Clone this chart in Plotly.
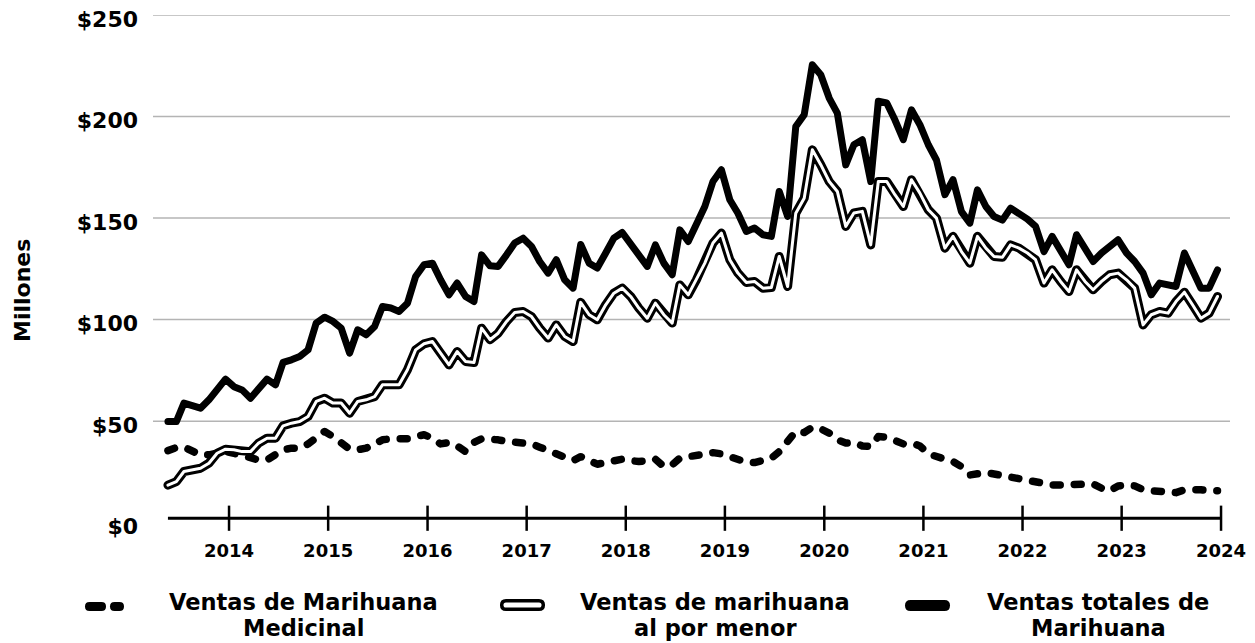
import pandas as pd
import plotly.graph_objects as go

# ---------------- data ----------------
months = pd.date_range("2014-01-01", periods=128, freq="MS")

total_sales = [
    49.8, 49.8, 58.9, 57.2, 56.4, 60.5, 65.8, 70.7, 67.0, 65.4, 61.3, 66.3,
    70.7, 67.9, 78.9, 80.2, 81.8, 85.1, 98.3, 101.2, 99.1, 95.8, 83.5, 95.0,
    92.5, 96.6, 106.5, 105.7, 104.0, 108.1, 121.2, 127.0, 127.8, 119.6, 112.2, 118.0,
    111.4, 108.9, 131.9, 126.5, 126.2, 131.9, 137.7, 140.1, 136.0, 128.6, 122.9, 129.5,
    119.6, 115.5, 137.0, 127.8, 125.4, 132.8, 140.1, 142.9, 137.7, 131.9, 126.2, 136.8,
    127.8, 122.1, 144.2, 138.5, 146.7, 155.7, 168.0, 173.8, 159.0, 152.4, 143.4, 145.1,
    141.8, 141.0, 163.1, 150.8, 195.1, 200.9, 225.5, 220.6, 209.1, 201.7, 176.2, 186.1,
    188.6, 168.0, 207.5, 206.7, 198.4, 188.6, 203.3, 196.0, 186.1, 178.6, 161.5, 168.9,
    153.2, 147.5, 163.9, 155.7, 150.8, 149.0, 154.9, 152.5, 149.5, 145.9, 133.5, 141.0,
    133.5, 127.0, 141.8, 134.4, 128.6, 132.8, 136.0, 139.3, 132.8, 128.6, 122.9, 112.2,
    118.0, 117.1, 116.3, 132.8, 124.5, 115.5, 115.5, 124.5,
]

retail_sales = [
    18.5, 20.2, 25.2, 26.0, 26.8, 29.3, 34.2, 36.2, 35.9, 35.0, 35.0, 39.2,
    41.6, 41.6, 47.7, 49.0, 49.8, 52.3, 59.7, 61.3, 58.9, 58.9, 53.9, 59.7,
    60.5, 62.1, 67.9, 67.9, 67.9, 75.3, 85.1, 88.1, 89.2, 83.5, 77.7, 84.3,
    79.4, 78.9, 95.8, 90.1, 93.3, 99.1, 103.5, 104.0, 101.5, 95.8, 90.9, 97.4,
    91.7, 89.2, 108.5, 102.4, 99.9, 107.3, 113.0, 115.5, 111.4, 105.7, 100.7, 108.1,
    102.4, 98.3, 117.1, 112.2, 119.6, 127.8, 137.7, 142.6, 129.5, 122.9, 118.3, 118.8,
    115.5, 115.8, 131.1, 116.3, 152.4, 159.8, 183.6, 176.3, 168.0, 163.1, 145.9, 152.5,
    153.3, 136.8, 168.0, 168.0, 161.5, 155.7, 168.9, 162.3, 154.1, 150.0, 135.2, 141.0,
    133.5, 127.8, 141.0, 135.2, 131.1, 130.7, 136.8, 135.2, 132.8, 129.5, 118.0, 124.5,
    118.8, 113.8, 124.5, 118.8, 114.7, 118.8, 122.1, 122.9, 119.6, 115.5, 97.4, 102.4,
    104.0, 103.2, 108.9, 113.5, 107.3, 100.7, 103.2, 111.4,
]

medical_sales = [
    35.5, 37.0, 37.2, 35.0, 33.4, 33.4, 34.2, 35.0, 34.2, 32.9, 32.3, 30.9,
    30.9, 33.4, 35.9, 36.7, 36.7, 38.8, 42.4, 44.9, 42.4, 39.2, 36.2, 35.9,
    36.7, 38.8, 40.8, 41.3, 41.1, 41.3, 42.4, 43.3, 41.6, 38.8, 39.5, 37.8,
    35.0, 39.5, 41.3, 41.3, 40.8, 40.0, 39.6, 39.6, 38.8, 37.2, 35.5, 34.2,
    32.3, 30.6, 32.5, 30.1, 28.8, 29.6, 30.9, 31.3, 30.6, 30.1, 30.6, 31.3,
    27.6, 28.5, 31.8, 32.3, 32.6, 33.9, 34.5, 33.9, 32.6, 30.9, 29.8, 29.6,
    30.6, 31.8, 35.0, 40.5, 44.9, 44.4, 47.0, 46.2, 44.1, 40.8, 39.2, 39.5,
    37.8, 37.5, 42.4, 42.1, 40.0, 38.8, 39.2, 37.8, 33.9, 32.3, 31.3, 30.1,
    27.6, 23.5, 24.4, 24.7, 24.0, 23.3, 21.9, 21.6, 20.8, 19.8, 19.0, 18.6,
    18.6, 18.6, 18.6, 19.1, 19.1, 17.0, 15.7, 18.1, 18.6, 18.1, 16.2, 15.7,
    15.3, 15.0, 14.8, 16.2, 16.5, 16.2, 15.7, 15.7,
]

x_tick_dates = ["2014-08-14", "2015-08-14", "2016-08-14", "2017-08-14", "2018-08-14",
                "2019-08-14", "2020-08-14", "2021-08-14", "2022-08-14", "2023-08-14",
                "2024-08-14"]
x_tick_labels = ["2014", "2015", "2016", "2017", "2018", "2019", "2020", "2021",
                 "2022", "2023", "2024"]
y_tick_vals = [0, 50, 100, 150, 200, 250]
y_tick_labels = ["$0", "$50", "$100", "$150", "$200", "$250"]

legend_lines = [
    ("Ventas de Marihuana", "Medicinal"),
    ("Ventas de marihuana", "al por menor"),
    ("Ventas totales de", "Marihuana"),
]

# ---------------- layout constants ----------------
W, H = 1255, 643
L, R, T, B = 153, 25, 15, 113
PW, PH = W - L - R, H - T - B
FONT = "DejaVu Sans"
AXIS_Y = 2.2


def px(xp):
    return (xp - L) / PW


def py(yp):
    return (H - B - yp) / PH


def stadium(x1, x2, yc, r):
    """Rounded bar path (pixel inputs) in paper coordinates."""
    def P(a, b):
        return f"{px(a):.5f},{py(b):.5f}"
    return (f"M{P(x1, yc - r)} L{P(x2, yc - r)} Q{P(x2 + r, yc - r)} {P(x2 + r, yc)} "
            f"Q{P(x2 + r, yc + r)} {P(x2, yc + r)} L{P(x1, yc + r)} "
            f"Q{P(x1 - r, yc + r)} {P(x1 - r, yc)} Q{P(x1 - r, yc - r)} {P(x1, yc - r)} Z")


fig = go.Figure()

fig.add_trace(go.Scatter(
    x=months, y=medical_sales, mode="lines", name="Ventas de Marihuana Medicinal",
    line=dict(color="black", width=7.5, dash="7px,14px"), hoverinfo="skip"))
fig.add_trace(go.Scatter(
    x=months, y=retail_sales, mode="lines", name="Ventas de marihuana al por menor",
    line=dict(color="black", width=9), hoverinfo="skip"))
fig.add_trace(go.Scatter(
    x=months, y=retail_sales, mode="lines", showlegend=False,
    line=dict(color="white", width=3), hoverinfo="skip"))
fig.add_trace(go.Scatter(
    x=months, y=total_sales, mode="lines", name="Ventas totales de Marihuana",
    line=dict(color="black", width=7), hoverinfo="skip"))

# crossing tick marks on the baseline
fig.add_trace(go.Scatter(
    x=x_tick_dates, y=[AXIS_Y] * len(x_tick_dates), mode="markers", showlegend=False,
    marker=dict(symbol="line-ns", size=18, line=dict(color="black", width=2.5)),
    hoverinfo="skip", cliponaxis=False))

shapes = []
for v in y_tick_vals[1:]:
    shapes.append(dict(type="line", xref="paper", yref="y", x0=0, x1=1, y0=v, y1=v,
                       line=dict(color="#b4b4b4", width=1.5), layer="below"))
shapes.append(dict(type="line", xref="x", yref="y", x0=months[0], x1=x_tick_dates[-1],
                   y0=AXIS_Y, y1=AXIS_Y, line=dict(color="black", width=3)))

# legend symbols
shapes.append(dict(type="path", xref="paper", yref="paper", path=stadium(89.5, 101.5, 606.5, 4.5),
                   fillcolor="black", line=dict(width=0)))
shapes.append(dict(type="path", xref="paper", yref="paper", path=stadium(114.5, 119.5, 606.5, 4.5),
                   fillcolor="black", line=dict(width=0)))
shapes.append(dict(type="path", xref="paper", yref="paper", path=stadium(506, 539, 605, 4.3),
                   fillcolor="white", line=dict(color="black", width=3.5)))
shapes.append(dict(type="path", xref="paper", yref="paper", path=stadium(910.5, 944.5, 605.5, 5.5),
                   fillcolor="black", line=dict(width=0)))

annotations = []
legend_cx = [303, 715, 1098]
for cx, (l1, l2) in zip(legend_cx, legend_lines):
    for text, yc in ((l1, 602), (l2, 628)):
        annotations.append(dict(text=text, xref="paper", yref="paper", x=px(cx), y=py(yc),
                                xanchor="center", yanchor="middle", showarrow=False,
                                font=dict(family=FONT, size=22.5, color="black", weight="bold")))
annotations.append(dict(text="Millones", xref="paper", yref="paper", x=px(22), y=py(291),
                        xanchor="center", yanchor="middle", showarrow=False, textangle=-90,
                        font=dict(family=FONT, size=22, color="black", weight="bold")))

fig.update_layout(
    width=W, height=H, margin=dict(l=L, r=R, t=T, b=B, pad=0, autoexpand=False),
    paper_bgcolor="white", plot_bgcolor="white", showlegend=False,
    shapes=shapes, annotations=annotations,
    font=dict(family=FONT, color="black"),
    xaxis=dict(type="date", range=["2013-11-07", "2024-09-16"], showgrid=False,
               zeroline=False, showline=False, tickmode="array", tickvals=x_tick_dates,
               ticktext=x_tick_labels, ticks="", ticklabelstandoff=8, automargin=False,
               tickfont=dict(family=FONT, size=18, color="black", weight="bold")),
    yaxis=dict(range=[-3.6, 250], showgrid=False, zeroline=False, showline=False,
               tickmode="array", tickvals=y_tick_vals, ticktext=y_tick_labels, ticks="",
               ticklabelstandoff=14, ticklabelshift=4, automargin=False,
               tickfont=dict(family=FONT, size=22, color="black", weight="bold")),
)

post = """
document.documentElement.style.margin='0';
document.documentElement.style.padding='0';
document.body.style.margin='0';
document.body.style.padding='0';
document.body.style.overflow='hidden';
function rc(){
  document.querySelectorAll('.scatterlayer path.js-line').forEach(function(p){
    p.style.strokeLinecap='round'; p.style.strokeLinejoin='round';
  });
}
rc(); setTimeout(rc, 100); setTimeout(rc, 500);
"""

fig.write_html("out.html", post_script=post, config={"displayModeBar": False})
